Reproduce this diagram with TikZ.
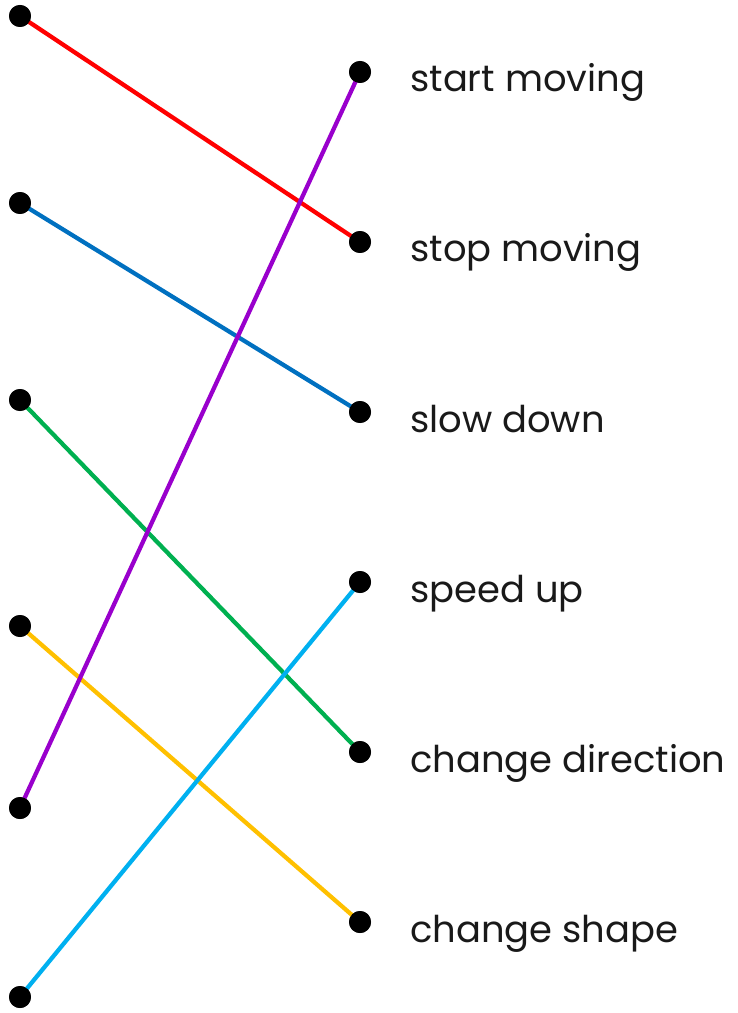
\documentclass[tikz,border=0pt]{standalone}
\usepackage{fontspec}
\setmainfont{Poppins}
\definecolor{lred}{HTML}{FF0000}
\definecolor{lblue}{HTML}{0070C0}
\definecolor{lgreen}{HTML}{00B050}
\definecolor{lyellow}{HTML}{FFC000}
\definecolor{lpurple}{HTML}{9900CC}
\definecolor{lcyan}{HTML}{00B0F0}
\begin{document}
\begin{tikzpicture}[x=0.02cm, y=-0.02cm, line cap=round]
	\tikzset{dot/.style={circle, fill=black, inner sep=0pt, minimum size=0.44cm},
	link/.style={line width=0.085cm},
	word/.style={anchor=base west, inner sep=0pt, font=\fontsize{21}{25}\selectfont, text=black!90}}
	\useasboundingbox (0,0) rectangle (737,1013);
	% left column
	\node[dot] (l1) at (20,16) {};
	\node[dot] (l2) at (20,203) {};
	\node[dot] (l3) at (20,400) {};
	\node[dot] (l4) at (20,626) {};
	\node[dot] (l5) at (20,808) {};
	\node[dot] (l6) at (20,997) {};
	% right column
	\node[dot] (r1) at (360,72) {};
	\node[dot] (r2) at (360,242) {};
	\node[dot] (r3) at (360,412) {};
	\node[dot] (r4) at (360,582) {};
	\node[dot] (r5) at (360,752) {};
	\node[dot] (r6) at (360,922) {};
	%
	\node[word] (t1) at (410,92) {start moving};
	\node[word] (t2) at (410,262) {stop moving};
	\node[word] (t3) at (410,432) {slow down};
	\node[word] (t4) at (410,602) {speed up};
	\node[word] (t5) at (410,772) {change direction};
	\node[word] (t6) at (410,942) {change shape};
	% links
	\draw[link, lred] (l1.center) -- (r2.center);
	\draw[link, lblue] (l2.center) -- (r3.center);
	\draw[link, lgreen] (l3.center) -- (r5.center);
	\draw[link, lyellow] (l4.center) -- (r6.center);
	\draw[link, lpurple] (l5.center) -- (r1.center);
	\draw[link, lcyan] (l6.center) -- (r4.center);
	% dots again on top of the links
	\foreach \d in {l1,l2,l3,l4,l5,l6,r1,r2,r3,r4,r5,r6}
	\fill (\d) circle (0.22cm);
\end{tikzpicture}
\end{document}
